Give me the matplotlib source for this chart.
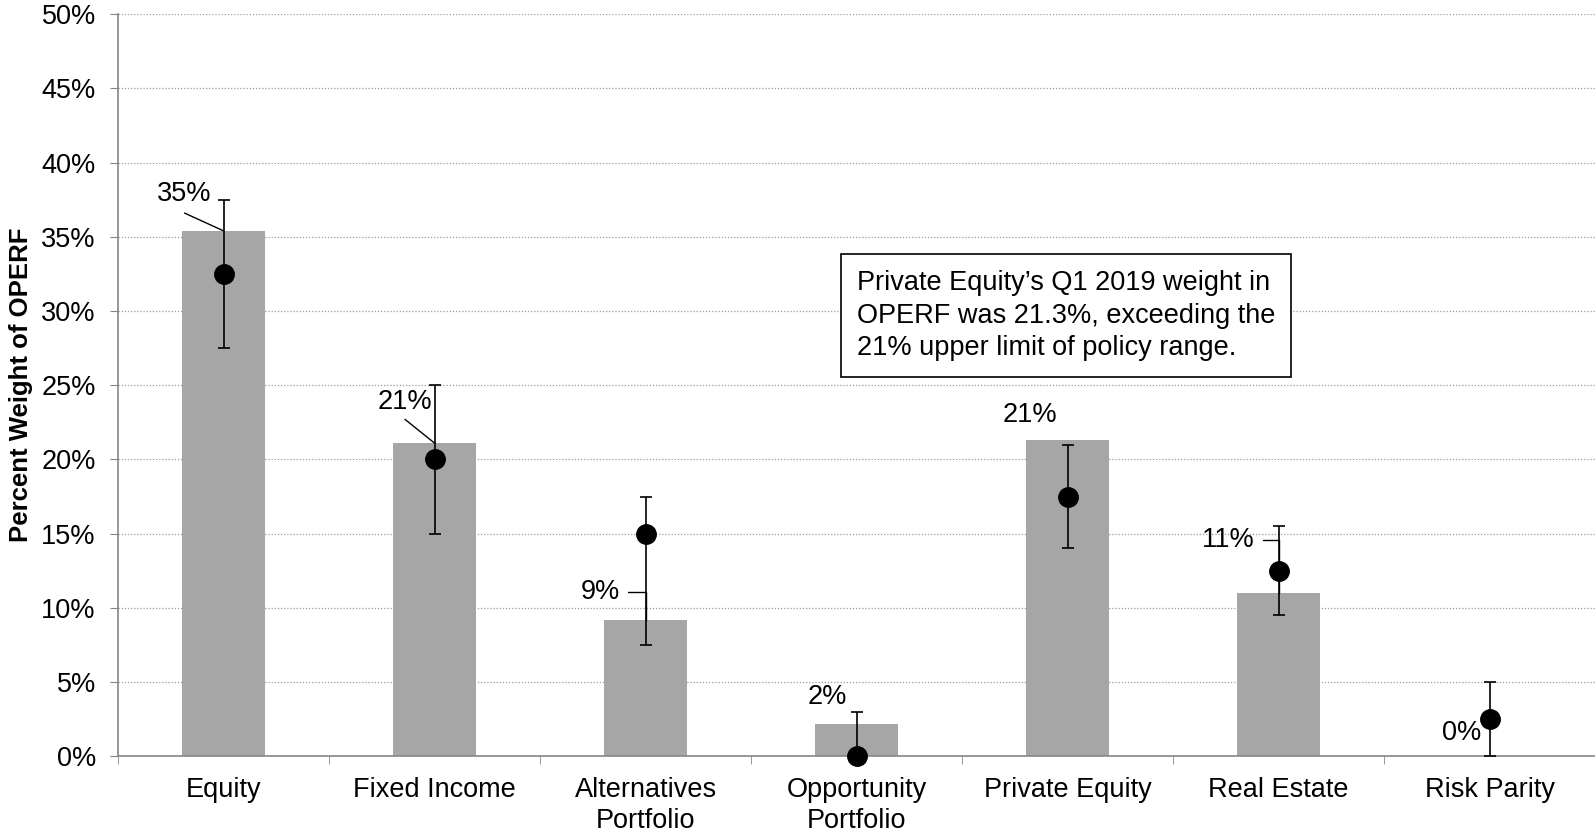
import numpy as np
import matplotlib
matplotlib.use("Agg")
import matplotlib.pyplot as plt

plt.rcParams['font.family'] = ['Liberation Sans', 'DejaVu Sans']

categories = ["Equity", "Fixed Income", "Alternatives\nPortfolio", "Opportunity\nPortfolio",
              "Private Equity", "Real Estate", "Risk Parity"]
actual = [35.4, 21.1, 9.2, 2.2, 21.3, 11.0, 0.0]
target = [32.5, 20.0, 15.0, 0.0, 17.5, 12.5, 2.5]
range_low = [27.5, 15.0, 7.5, 0.0, 14.0, 9.5, 0.0]
range_high = [37.5, 25.0, 17.5, 3.0, 21.0, 15.5, 5.0]
value_labels = ["35%", "21%", "9%", "2%", "21%", "11%", "0%"]
# label positions (offset in category units, y in %) and leader lines
label_dx = [-0.185, -0.14, -0.215, -0.14, -0.18, -0.24, -0.13]
label_y = [37.9, 23.9, 11.1, 4.0, 23.0, 14.6, 1.6]
leader = ["straight", "straight", "elbow", None, None, "elbow", None]
leader_dx = [0.0, 0.0, 0.133, 0, 0, 0.166, 0]
leader_dy = [-1.3, -1.2, 0.0, 0, 0, 0.0, 0]

note = ("Private Equity\u2019s Q1 2019 weight in\n"
        "OPERF was 21.3%, exceeding the\n"
        "21% upper limit of policy range.")

fs = 19.5

fig = plt.figure(figsize=(15.95, 8.32), dpi=100)
ax = fig.add_axes([0.074, 0.091, 0.926, 0.892])

x = np.arange(len(categories))
ax.bar(x, actual, width=0.395, color='#A6A6A6', zorder=2)

err = [np.array(target) - np.array(range_low), np.array(range_high) - np.array(target)]
eb = ax.errorbar(x, target, yerr=err, fmt='o', color='black', markersize=14,
                 ecolor='black', elinewidth=1.2, capsize=4.3, capthick=1.2, zorder=3)
for artist in eb.lines[0:1] + tuple(eb.lines[1]) + tuple(eb.lines[2]):
    if artist is not None:
        artist.set_clip_on(False)

for i in range(len(categories)):
    tx = x[i] + label_dx[i]
    ty = label_y[i]
    ax.text(tx, ty, value_labels[i], ha='center', va='center', fontsize=fs, zorder=4)
    if leader[i] == "straight":
        ax.annotate("", xy=(x[i], actual[i]), xytext=(tx + leader_dx[i], ty + leader_dy[i]),
                    arrowprops=dict(arrowstyle='-', color='black', lw=1,
                                    shrinkA=0, shrinkB=0), zorder=4)
    elif leader[i] == "elbow":
        ax.annotate("", xy=(x[i], actual[i]), xytext=(tx + leader_dx[i], ty + leader_dy[i]),
                    arrowprops=dict(arrowstyle='-', color='black', lw=1,
                                    shrinkA=0, shrinkB=0,
                                    connectionstyle="angle,angleA=0,angleB=90,rad=0"),
                    zorder=4)

ax.text(3.0, 32.75, note, ha='left', va='top', fontsize=fs, linespacing=1.33,
        bbox=dict(boxstyle='square,pad=0.58', fc='white', ec='black', lw=1.2), zorder=5)

ax.set_xlim(-0.5, len(categories) - 0.5)
ax.set_ylim(0, 50)
ax.set_yticks(np.arange(0, 51, 5))
ax.set_yticklabels(["{}%".format(v) for v in range(0, 51, 5)], fontsize=fs)
ax.yaxis.grid(True, linestyle=(0, (1, 1.5)), color='#9a9a9a', linewidth=0.9, zorder=0)

ax.set_xticks(x)
ax.set_xticklabels(categories, fontsize=fs, linespacing=1.25)
ax.set_xticks(np.arange(-0.5, len(categories), 1), minor=True)
ax.tick_params(axis='x', which='major', length=0, pad=15)
ax.tick_params(axis='x', which='minor', length=6, color='#868686', direction='out')
ax.tick_params(axis='y', length=6, color='#868686', pad=10, direction='out')

for s in ['top', 'right']:
    ax.spines[s].set_visible(False)
for s in ['left', 'bottom']:
    ax.spines[s].set_color('#868686')
    ax.spines[s].set_linewidth(1.2)

ax.set_ylabel("Percent Weight of OPERF", fontsize=18.5, fontweight='bold', labelpad=6)

plt.savefig("out.png", dpi=100)
